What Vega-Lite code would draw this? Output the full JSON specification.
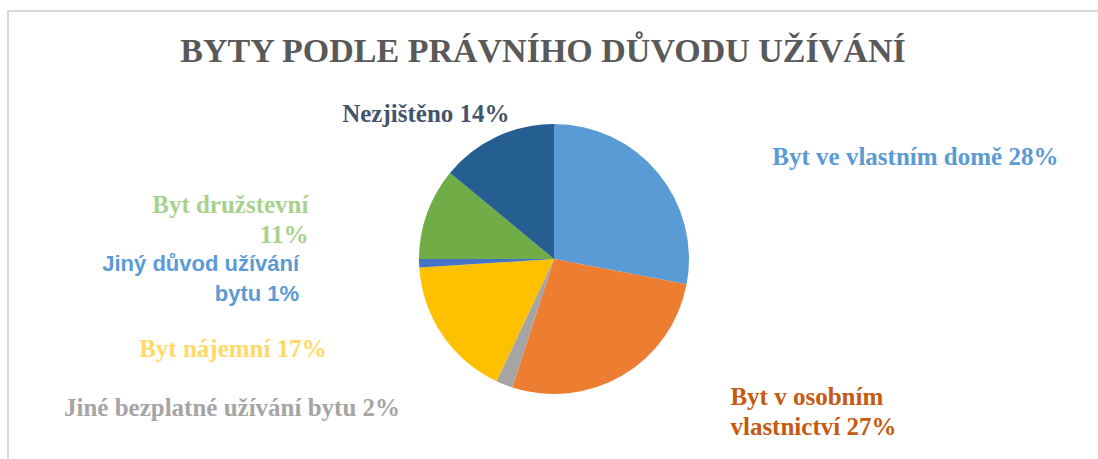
{
  "$schema": "https://vega.github.io/schema/vega-lite/v6.json",
  "autosize": {"type": "none"},
  "padding": {"left": 8, "top": 11, "right": 0, "bottom": 0},
  "width": 1092,
  "height": 496,
  "background": "white",
  "view": {"stroke": "#d9d9d9", "strokeWidth": 2},
  "title": {
    "text": "BYTY PODLE PRÁVNÍHO DŮVODU UŽÍVÁNÍ",
    "font": "Liberation Serif",
    "fontSize": 34,
    "fontWeight": "bold",
    "color": "#595959",
    "anchor": "middle",
    "offset": -58,
    "dx": -11
  },
  "data": {
    "values": [
      {"idx": 1, "cat": "Byt ve vlastním domě", "share": 28, "label": "Byt ve vlastním domě 28%"},
      {"idx": 2, "cat": "Byt v osobním vlastnictví", "share": 27, "label": "Byt v osobním\nvlastnictví 27%"},
      {"idx": 3, "cat": "Jiné bezplatné užívání bytu", "share": 2, "label": "Jiné bezplatné užívání bytu 2%"},
      {"idx": 4, "cat": "Byt nájemní", "share": 17, "label": "Byt nájemní 17%"},
      {"idx": 5, "cat": "Jiný důvod užívání bytu", "share": 1, "label": "Jiný důvod užívání\nbytu 1%"},
      {"idx": 6, "cat": "Byt družstevní", "share": 11, "label": "Byt družstevní\n11%"},
      {"idx": 7, "cat": "Nezjištěno", "share": 14, "label": "Nezjištěno 14%"}
    ]
  },
  "encoding": {
    "theta": {"field": "share", "type": "quantitative", "stack": true},
    "order": {"field": "idx", "type": "quantitative"}
  },
  "layer": [
    {
      "mark": {"type": "arc", "outerRadius": 135},
      "encoding": {
        "color": {
          "field": "cat",
          "type": "nominal",
          "scale": {
            "domain": ["Byt ve vlastním domě", "Byt v osobním vlastnictví", "Jiné bezplatné užívání bytu", "Byt nájemní", "Jiný důvod užívání bytu", "Byt družstevní", "Nezjištěno"],
            "range": ["#5B9BD5", "#ED7D31", "#A5A5A5", "#FFC000", "#4472C4", "#70AD47", "#255E91"]
          },
          "legend": null
        }
      }
    },
    {
      "mark": {
        "type": "text",
        "radius": 160,
        "fontWeight": "bold",
        "lineBreak": "\n",
        "lineHeight": 30,
        "baseline": "middle",
        "font": {"expr": "datum.cat === 'Jiný důvod užívání bytu' ? 'Liberation Sans' : 'Liberation Serif'"},
        "fontSize": {"expr": "datum.cat === 'Jiný důvod užívání bytu' ? 22 : 25"},
        "align": {"expr": "(datum.share_start + datum.share_end) / 200 > 0.89 ? 'center' : ((datum.share_start + datum.share_end) / 200 < 0.5 ? 'left' : 'right')"},
        "dx": {"expr": "(datum.share_start + datum.share_end) / 200 > 0.89 ? -60 : ((datum.share_start + datum.share_end) / 200 < 0.5 ? 95 : -95)"}
      },
      "encoding": {
        "text": {"field": "label", "type": "nominal"},
        "color": {
          "field": "cat",
          "type": "nominal",
          "scale": {
            "domain": ["Byt ve vlastním domě", "Byt v osobním vlastnictví", "Jiné bezplatné užívání bytu", "Byt nájemní", "Jiný důvod užívání bytu", "Byt družstevní", "Nezjištěno"],
            "range": ["#5B9BD5", "#C55A11", "#A5A5A5", "#FFD966", "#5B9BD5", "#A9D18E", "#44546A"]
          },
          "legend": null
        }
      }
    }
  ],
  "resolve": {"scale": {"color": "independent"}}
}
